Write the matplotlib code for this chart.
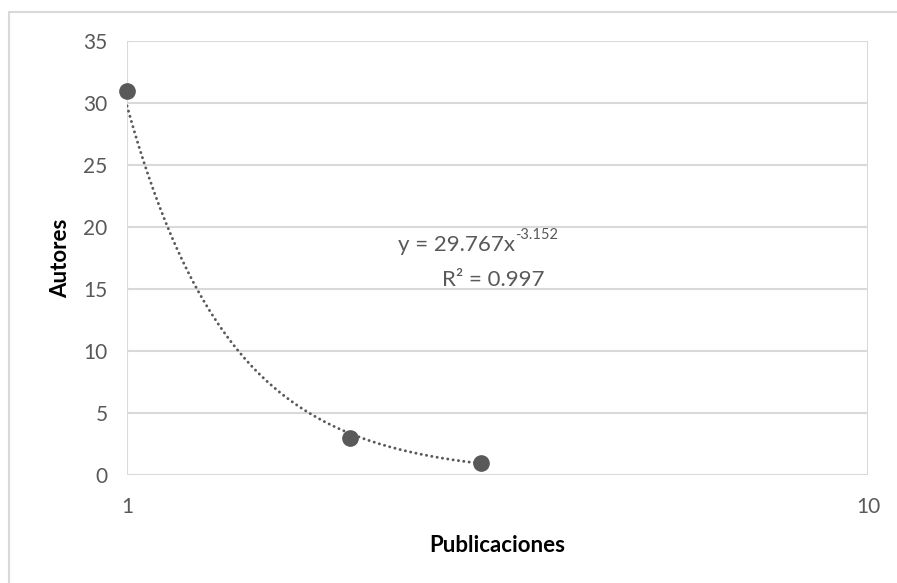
import numpy as np
from matplotlib import pyplot as plt
from matplotlib.patches import Rectangle
from matplotlib.ticker import FixedLocator, FixedFormatter, NullLocator

# Data
publicaciones = [1, 2, 3]
autores = [31, 3, 1]

# Power trendline shown on the chart
coef_a = 29.767
coef_b = -3.152
r_squared = 0.997

y_ticks = [0, 5, 10, 15, 20, 25, 30, 35]
x_ticks = [1, 10]

plt.rcParams['font.family'] = ['Lato', 'DejaVu Sans']

fig = plt.figure(figsize=(8.97, 5.83), dpi=100)
ax = fig.add_axes([127 / 897, 1 - 475 / 583, (868 - 127) / 897, (475 - 41) / 583])

# outer chart border
fig.patches.append(Rectangle((9 / 897, -0.1), 1.2, 1 - 12 / 583 + 0.1,
                             transform=fig.transFigure, fill=False,
                             edgecolor="#d9d9d9", linewidth=1.5, zorder=0))

grid_color = "#d9d9d9"
text_color = "#595959"

# trendline
xs = np.linspace(min(publicaciones), max(publicaciones), 300)
ax.plot(xs, coef_a * xs ** coef_b, linestyle=(0, (0.05, 1.8)), color=text_color,
        linewidth=2.1, dash_capstyle="round", zorder=3)

ax.plot(publicaciones, autores, "o", color=text_color, markersize=11, zorder=4,
        clip_on=False)

ax.set_xscale("log")
ax.set_xlim(1, 10)
ax.set_ylim(0, 35)
ax.xaxis.set_major_locator(FixedLocator(x_ticks))
ax.xaxis.set_major_formatter(FixedFormatter([str(t) for t in x_ticks]))
ax.xaxis.set_minor_locator(NullLocator())
ax.set_yticks(y_ticks)

for side in ["top", "right", "left", "bottom"]:
    ax.spines[side].set_visible(False)
ax.grid(True, which="major", color=grid_color, linewidth=1.5)
ax.set_axisbelow(True)
ax.tick_params(axis="both", length=0, labelsize=15, labelcolor=text_color)
ax.tick_params(axis="x", pad=16)
ax.tick_params(axis="y", pad=14)

ax.set_xlabel("Publicaciones", fontsize=16, fontweight="bold", labelpad=13)
ax.set_ylabel("Autores", fontsize=16, fontweight="bold", labelpad=9)

# trendline equation
eq = ax.text(0.366, 0.530, f"y = {coef_a}x", transform=ax.transAxes,
             ha="left", va="center", fontsize=16, color=text_color)
ax.annotate(f"{coef_b}", xy=(1, 0.66), xycoords=eq, ha="left", va="bottom",
            fontsize=10.5, color=text_color)
ax.text(0.494, 0.449, f"R² = {r_squared}", transform=ax.transAxes,
        ha="center", va="center", fontsize=16, color=text_color)

plt.savefig("out.png", dpi=100)
